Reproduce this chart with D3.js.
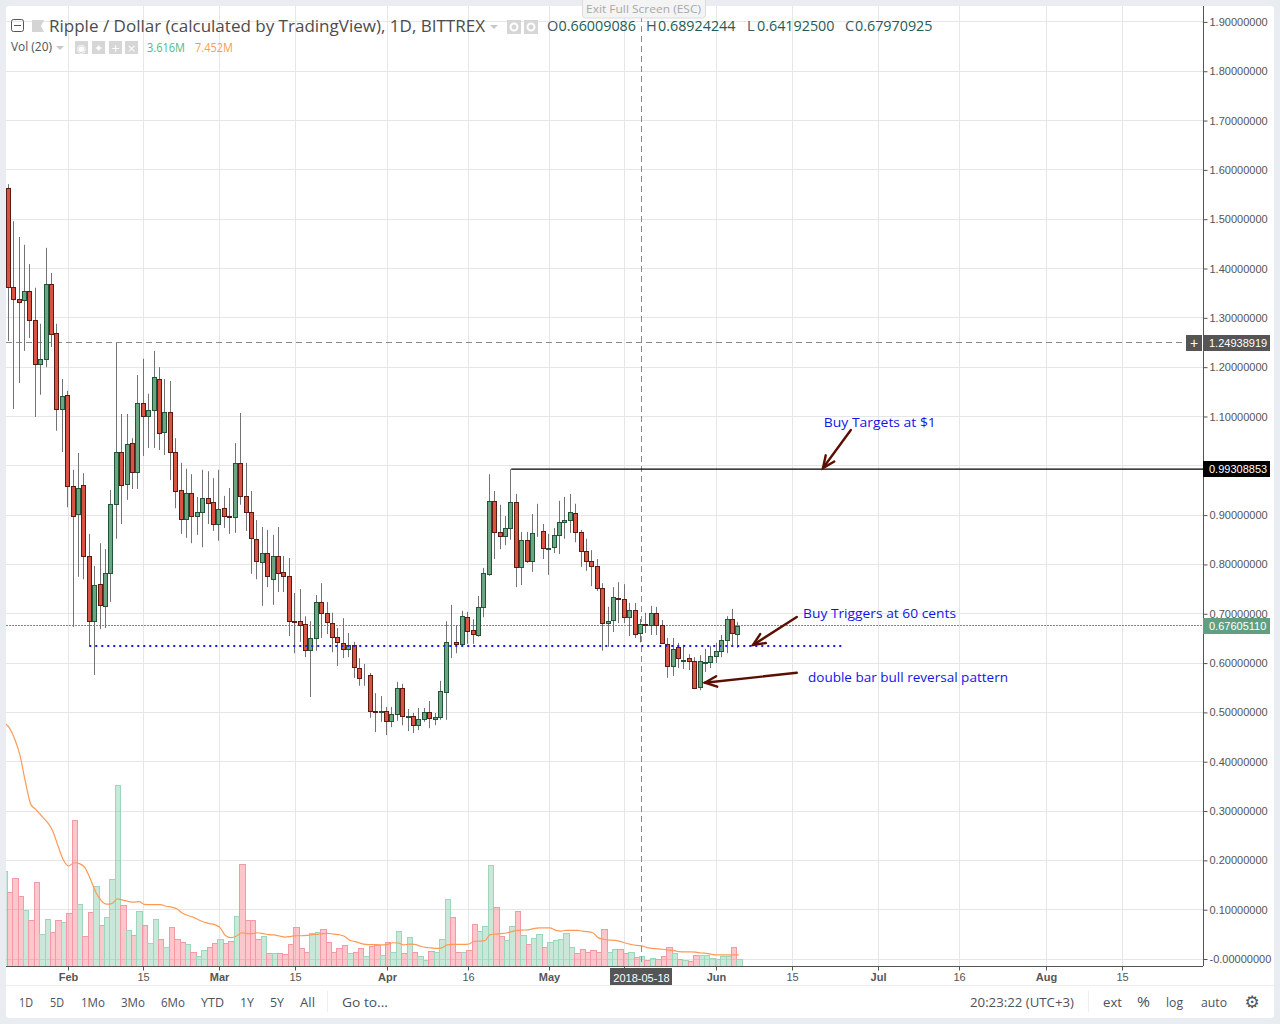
<!DOCTYPE html>
<html><head><meta charset="utf-8">
<script src="https://cdn.jsdelivr.net/npm/d3@7/dist/d3.min.js"></script>
<style>html,body{margin:0;padding:0;background:#e9edf1;overflow:hidden}svg{display:block}</style>
</head><body><svg id="c" width="1280" height="1024"></svg>
<script>
const firstCandle = "2018-01-21";
const opens = [1.563,1.363,1.338,1.336,1.354,1.296,1.206,1.217,1.369,1.269,
1.115,1.144,.959,.902,.961,.817,.685,.760,.716,.783,
.923,1.028,.963,1.046,.987,1.127,1.101,1.113,1.176,1.069,
1.109,1.028,.951,.892,.945,.898,.906,.935,.927,.882,
.914,.898,.896,1.006,.939,.906,.852,.805,.823,.770,
.817,.785,.777,.685,.685,.679,.627,.651,.724,.702,
.681,.653,.641,.629,.637,.590,.571,.576,.503,.501,
.503,.483,.497,.549,.491,.493,.474,.487,.501,.487,
.491,.541,.643,.643,.639,.693,.667,.657,.714,.781,
.929,.866,.858,.874,.927,.795,.850,.807,.865,.868,
.832,.835,.860,.886,.890,.904,.866,.827,.807,.797,
.752,.681,.687,.732,.730,.693,.708,.66009,.679,.677,
.702,.677,.639,.594,.633,.605,.610,.604,.551,.601,
.602,.614,.625,.647,.689,.659];
const closes = [1.363,1.338,1.332,1.354,1.296,1.206,1.217,1.369,1.267,1.115,
1.142,.959,.898,.955,.817,.685,.758,.718,.783,.923,
1.028,.961,1.044,.987,1.127,1.101,1.113,1.180,1.067,1.109,
1.028,.949,.892,.945,.898,.906,.935,.925,.882,.912,
.898,.896,1.006,.939,.906,.854,.807,.823,.777,.817,
.783,.777,.685,.683,.677,.627,.651,.724,.702,.683,
.653,.643,.629,.637,.592,.570,.572,.503,.501,.502,
.483,.497,.549,.493,.492,.474,.487,.501,.489,.491,
.543,.643,.642,.639,.695,.665,.659,.714,.783,.929,
.866,.858,.874,.927,.795,.850,.807,.864,.866,.833,
.833,.860,.886,.890,.906,.866,.827,.807,.797,.752,
.681,.685,.734,.730,.693,.708,.659,.67971,.678,.702,
.677,.641,.594,.629,.610,.606,.604,.549,.604,.602,
.614,.625,.647,.689,.661,.67605];
const highs = [1.571,1.496,1.464,1.448,1.409,1.361,1.288,1.442,1.391,1.288,
1.176,1.152,.992,1.026,.985,.862,.797,.843,.831,.951,
1.2494,1.105,1.105,1.056,1.184,1.217,1.146,1.233,1.200,1.176,
1.172,1.056,1.006,.994,.983,.937,.992,.989,.975,.992,
.939,.955,1.046,1.107,1.006,.949,.890,.876,.870,.860,
.876,.817,.813,.742,.750,.695,.685,.738,.762,.724,
.702,.671,.691,.661,.643,.610,.598,.580,.539,.533,
.511,.511,.562,.558,.507,.499,.509,.509,.523,.499,
.564,.685,.718,.677,.706,.704,.689,.736,.793,.983,
.949,.921,.898,.9931,.943,.866,.866,.902,.923,.882,
.862,.874,.929,.937,.943,.923,.870,.852,.829,.811,
.762,.714,.754,.764,.760,.722,.722,.68924,.702,.716,
.714,.687,.651,.651,.641,.637,.618,.612,.616,.629,
.635,.641,.657,.695,.710,.683];
const lows = [1.253,1.115,1.168,1.233,1.259,1.099,1.144,1.200,1.241,1.071,
1.028,.916,.673,.775,.770,.635,.576,.669,.671,.724,
.852,.882,.931,.953,.953,1.020,1.036,1.036,1.032,1.022,
.971,.914,.862,.854,.843,.860,.835,.882,.868,.848,
.874,.862,.864,.921,.868,.781,.770,.716,.754,.718,
.744,.744,.655,.620,.643,.612,.531,.625,.651,.659,
.622,.594,.610,.612,.570,.554,.554,.489,.460,.481,
.454,.470,.483,.474,.462,.458,.464,.481,.468,.474,
.485,.485,.610,.620,.633,.639,.639,.653,.693,.777,
.811,.831,.839,.850,.754,.758,.803,.785,.856,.811,
.779,.823,.821,.852,.864,.845,.795,.787,.756,.746,
.625,.633,.663,.681,.681,.655,.651,.64192,.661,.657,
.657,.641,.570,.574,.590,.588,.586,.547,.545,.582,
.590,.600,.612,.620,.633,.631];
// millions; the first entry is the day before the first visible candle
const volumes = [35.0,27.5,32.7,26.0,20.6,17.1,31.2,11.7,17.5,12.7,17.1,
16.4,19.7,53.9,23.1,11.2,20.1,29.7,15.3,18.2,32.3,
67.1,22.7,13.4,11.6,20.5,15.3,8.6,17.5,10.1,7.2,
14.5,10.1,9.0,8.3,5.3,3.8,6.0,7.2,8.6,10.1,
8.6,9.4,18.6,37.9,17.1,17.1,10.1,11.2,4.9,4.9,
4.9,4.6,8.3,14.5,6.8,5.3,12.3,12.7,13.8,9.0,
5.3,6.8,7.9,4.9,5.3,6.8,3.8,7.5,7.9,4.1,
8.9,5.2,12.9,4.8,10.7,5.2,3.7,2.2,5.5,5.2,
10.0,24.8,18.1,5.2,5.2,5.9,15.5,12.9,14.8,37.4,
21.8,11.1,9.6,14.8,20.3,11.5,8.1,10.4,11.8,7.0,
8.9,9.6,10.0,12.2,7.0,4.8,6.3,5.2,5.9,5.2,
13.7,5.2,6.3,6.3,4.8,5.2,3.3,3.616,2.2,3.0,
2.6,3.7,7.0,4.8,2.6,2.2,1.8,4.1,4.1,4.1,
3.0,2.6,3.7,3.7,7.0,2.6];
const volumeMA = [90.0,88.2,84.1,77.9,68.1,59.8,57.8,55.5,53.3,50.2,44.6,
39.3,37.0,38.2,37.9,36.4,32.3,27.4,24.3,22.9,23.1,
24.8,24.4,23.9,23.6,23.8,22.8,22.7,22.7,22.7,22.1,
21.8,21.2,19.6,18.7,18.1,17.1,16.3,15.7,15.3,14.2,
11.3,10.5,11.0,12.3,12.0,12.0,12.3,12.0,11.6,11.5,
11.1,10.7,10.9,11.2,11.2,11.3,11.6,11.7,12.0,12.1,
11.8,11.6,11.0,9.5,9.0,8.4,8.0,7.9,7.9,7.8,
8.0,8.6,8.5,7.8,8.1,8.0,7.4,6.9,6.7,6.5,
6.7,7.8,8.0,8.0,8.0,8.1,9.1,9.2,9.4,11.6,
11.8,12.0,12.2,12.7,13.2,13.3,13.4,13.8,14.1,14.1,
14.1,13.3,12.9,13.2,13.2,13.2,12.9,12.7,12.3,10.4,
9.9,9.6,9.5,9.1,8.5,8.0,7.6,7.452,6.8,6.5,
6.3,6.2,5.9,5.7,5.3,5.2,5.2,5.1,4.8,4.7,
4.3,4.1,4.1,4.1,4.1,4.1];
const priceTicks = [1.9,1.8,1.7,1.6,1.5,1.4,1.3,1.2,1.1,1.0,.9,.8,.7,.6,.5,.4,.3,.2,.1,0];
const timeTicks = [["2018-02-01","Feb",1],["2018-02-15","15",0],["2018-03-01","Mar",1],["2018-03-15","15",0],
["2018-04-01","Apr",1],["2018-04-16","16",0],["2018-05-01","May",1],["2018-05-15","",0],["2018-06-01","Jun",1],
["2018-06-15","15",0],["2018-07-01","Jul",1],["2018-07-16","16",0],["2018-08-01","Aug",1],["2018-08-15","15",0]];
const lastPrice = 0.67605110, resistance = 0.99308853, hoverPrice = 1.24938919, support = 0.6346;
const hoverDay = "2018-05-18";
const rangeButtons = [["1D",19,14],["5D",50,14],["1Mo",81,24],["3Mo",121,24],["6Mo",161,24],["YTD",201,23],["1Y",240,14],["5Y",270,14],["All",300,15]];
const arrows = [[155.9,1.0726,150.75,.9955],[145.9,.6934,137.8,.6367],[145.9,.5803,128.9,.5602]];
const notes = [["Buy Targets at $1",150.9,1.0787,112],["Buy Triggers at 60 cents",147.05,.6914,153],["double bar bull reversal pattern",147.97,.5616,200]];

const L=6,R=1203,T=6,B=966;
const MS=864e5, t0=Date.UTC(2018,0,21);
const dayAt=i=>new Date(t0+i*MS);
const x=d3.scaleUtc().domain([t0,Date.UTC(2018,7,15)]).range([8.2,8.2+5.405*206]);
const y=d3.scaleLinear().domain([0,1.9]).range([959,959-1.9*493.2]);
const yv=d3.scaleLinear().domain([0,100]).range([966,966-100/0.37]);
const snap=v=>Math.floor(v)+.5;
const gridX=d=>Math.round(x(d))+.5;

const svg=d3.select("#c");
const FONT="'Open Sans',sans-serif", AX="'Liberation Sans',Arial,sans-serif";
function txt(g,px,py,s,o={}){const t=g.append("text").attr("x",px).attr("y",py).text(s)
 .attr("font-family",o.f||FONT).attr("font-size",o.s||13).attr("fill",o.c||"#4c525e").attr("font-weight",o.w||400).attr("text-anchor",o.a||"start");
 if(o.l){t.attr("textLength",o.l).attr("lengthAdjust","spacingAndGlyphs");}return t;}

svg.append("rect").attr("x",L).attr("y",T).attr("width",1268).attr("height",1012).attr("rx",3).attr("fill","#fff");
const defs=svg.append("defs");
defs.append("clipPath").attr("id","plot").append("rect").attr("x",L).attr("y",T).attr("width",R-L).attr("height",B-T);

// grid
const grid=svg.append("g").attr("stroke","#e6e6e6").attr("stroke-width",1);
grid.selectAll("line.h").data(priceTicks).join("line").attr("class","h").attr("x1",L).attr("x2",R)
 .attr("y1",d=>snap(y(d))).attr("y2",d=>snap(y(d)));
grid.selectAll("line.v").data(timeTicks).join("line").attr("class","v").attr("y1",T).attr("y2",B)
 .attr("x1",d=>gridX(new Date(d[0]))).attr("x2",d=>gridX(new Date(d[0])));

const plot=svg.append("g").attr("clip-path","url(#plot)");
// volume
const vg=plot.append("g");
vg.selectAll("rect").data(volumes).join("rect")
 .attr("x",(d,i)=>Math.round(x(dayAt(i-1))-1.5)+.5)
 .attr("width",(d,i)=>Math.round(x(dayAt(i))-1.5)-Math.round(x(dayAt(i-1))-1.5))
 .attr("y",d=>Math.round(yv(d))+.5).attr("height",d=>B-Math.round(yv(d)))
 .attr("fill",(d,i)=>(i===0||closes[i-1]>=opens[i-1])?"rgba(75,178,128,.3)":"rgba(247,82,95,.32)")
 .attr("stroke",(d,i)=>(i===0||closes[i-1]>=opens[i-1])?"#9ed6bb":"#f39aa5").attr("stroke-width",1);
plot.append("path").datum(volumeMA)
 .attr("d",d3.line().x((d,i)=>x(dayAt(i-1))+1).y(d=>yv(d)).curve(d3.curveMonotoneX))
 .attr("fill","none").attr("stroke","#ff9a55").attr("stroke-width",1.2);

// level lines
plot.append("line").attr("x1",L).attr("x2",R).attr("y1",snap(y(lastPrice))).attr("y2",snap(y(lastPrice)))
 .attr("stroke","#5f9a80").attr("stroke-dasharray","2 1");
plot.append("line").attr("x1",L).attr("x2",R).attr("y1",snap(y(hoverPrice))).attr("y2",snap(y(hoverPrice)))
 .attr("stroke","#8a8a8a").attr("stroke-dasharray","6 4");
plot.append("line").attr("x1",gridX(new Date(hoverDay))).attr("x2",gridX(new Date(hoverDay))).attr("y1",T).attr("y2",B)
 .attr("stroke","#8a8a8a").attr("stroke-dasharray","6 4");

// candles
const cg=plot.append("g");
const cx=i=>snap(x(dayAt(i)));
cg.selectAll("line").data(opens).join("line")
 .attr("x1",(d,i)=>cx(i)).attr("x2",(d,i)=>cx(i))
 .attr("y1",(d,i)=>y(highs[i])).attr("y2",(d,i)=>y(lows[i]))
 .attr("stroke","#737375").attr("stroke-width",1);
cg.selectAll("rect").data(opens).join("rect")
 .attr("x",(d,i)=>cx(i)-2).attr("width",4)
 .attr("y",(d,i)=>Math.round(y(Math.max(d,closes[i])))+.5)
 .attr("height",(d,i)=>Math.max(0,Math.round(y(Math.min(d,closes[i])))-Math.round(y(Math.max(d,closes[i])))))
 .attr("fill",(d,i)=>closes[i]>=d?"#6ba583":"#d75442")
 .attr("stroke",(d,i)=>closes[i]>=d?"#225437":"#5b1a13").attr("stroke-width",1);

// drawings
plot.append("line").attr("x1",x(dayAt(93))+.3).attr("x2",R).attr("y1",y(resistance)).attr("y2",y(resistance))
 .attr("stroke","#000").attr("stroke-width",1.2);
plot.append("line").attr("x1",x(dayAt(15))).attr("x2",x(dayAt(154.3))).attr("y1",y(support)).attr("y2",y(support))
 .attr("stroke","#1616f0").attr("stroke-width",2).attr("stroke-dasharray","2 4");
const ag=plot.append("g").attr("stroke","#5b0f00").attr("stroke-width",2.4).attr("fill","none").attr("stroke-linecap","round");
arrows.forEach(a=>{
 const x1=x(dayAt(a[0])),y1=y(a[1]),x2=x(dayAt(a[2])),y2=y(a[3]);
 const ang=Math.atan2(y1-y2,x1-x2),h=13,sp=.42;
 ag.append("line").attr("x1",x1).attr("y1",y1).attr("x2",x2).attr("y2",y2);
 ag.append("path").attr("d",`M${x2+h*Math.cos(ang+sp)},${y2+h*Math.sin(ang+sp)}L${x2},${y2}L${x2+h*Math.cos(ang-sp)},${y2+h*Math.sin(ang-sp)}`);
});
notes.forEach(n=>txt(svg,x(dayAt(n[1])),y(n[2]),n[0],{s:13.5,c:"#1414e6",l:n[3]}));

// price axis (the 1.00 label is covered by the level label in the reference)
const pa=svg.append("g").attr("transform",`translate(${R+.5},0)`)
 .call(d3.axisRight(y).tickValues(priceTicks).tickSize(4).tickPadding(2)
   .tickFormat(d=>d===0?"-0.00000000":(d===1?"":d3.format(".8f")(d))));
pa.select(".domain").attr("d",`M0,${T}V${B}`).attr("stroke","#555");
pa.selectAll(".tick line").attr("stroke","#555");
pa.selectAll(".tick text").attr("font-family",AX).attr("font-size",11).attr("fill","#555").attr("x",6);
// time axis
const ta=svg.append("g").attr("transform",`translate(0,${B+.5})`)
 .call(d3.axisBottom(x).tickValues(timeTicks.map(d=>new Date(d[0]))).tickSize(4).tickPadding(3)
   .tickFormat((d,i)=>timeTicks[i][1]));
ta.select(".domain").attr("d",`M${L},0H${R}`).attr("stroke","#555");
ta.selectAll(".tick").attr("transform",d=>`translate(${gridX(d)},0)`);
ta.selectAll(".tick line").attr("stroke","#555");
ta.selectAll(".tick text").attr("font-family",AX).attr("font-size",11).attr("fill","#555")
 .attr("font-weight",(d,i)=>timeTicks[i][2]?700:400);

// price labels
function plabel(p,txtS,bg,fg){const py=Math.round(y(p));
 svg.append("rect").attr("x",R).attr("y",py-8).attr("width",67).attr("height",16).attr("fill",bg);
 txt(svg,R+6,py+4,txtS,{f:AX,s:11,c:fg});}
plabel(hoverPrice,d3.format(".8f")(hoverPrice),"#555","#fff");
plabel(resistance,d3.format(".8f")(resistance),"#000","#fff");
plabel(lastPrice,d3.format(".8f")(lastPrice),"#5f9f82","#fff");
const hy=Math.round(y(hoverPrice));
svg.append("rect").attr("x",1186).attr("y",hy-8).attr("width",16).attr("height",16).attr("fill","#555");
txt(svg,1194,hy+4.5,"+",{f:AX,s:14,c:"#fff",a:"middle"});
const hx=gridX(new Date(hoverDay));
svg.append("rect").attr("x",hx-31.5).attr("y",B+2).attr("width",62).attr("height",18).attr("fill","#555");
txt(svg,hx,B+15.5,hoverDay,{f:AX,s:11,c:"#fff",a:"middle"});

// header
svg.append("rect").attr("x",582.5).attr("y",-3).attr("width",123).attr("height",21).attr("rx",3).attr("fill","#f4f4f4").attr("stroke","#dcdcdc");
txt(svg,586,13,"Exit Full Screen (ESC)",{s:11,c:"#a9a9a9",l:115});
svg.append("rect").attr("x",11.5).attr("y",19.5).attr("width",12).attr("height",12).attr("rx",2).attr("fill","none").attr("stroke","#555");
svg.append("line").attr("x1",14).attr("x2",21).attr("y1",25.5).attr("y2",25.5).attr("stroke","#555");
svg.append("path").attr("d","M32,20H44L41,26L44,32H32Z").attr("fill","#d4d4d4");
txt(svg,49,32,"Ripple / Dollar (calculated by TradingView), 1D, BITTREX",{s:16,c:"#4c4c4c",l:436});
svg.append("path").attr("d","M490,25h8l-4,4z").attr("fill","#c8c8c8");
[507,524].forEach(px=>{svg.append("rect").attr("x",px).attr("y",20).attr("width",14).attr("height",14).attr("fill","#d6d6d6");
 svg.append("circle").attr("cx",px+7).attr("cy",27).attr("r",3.5).attr("fill","none").attr("stroke","#fff").attr("stroke-width",2);});
const ohlc=[["O","0.66009086",547,558.5],["H","0.68924244",646,658],["L","0.64192500",747,757],["C","0.67970925",845,855]];
ohlc.forEach(o=>{txt(svg,o[2],31,o[0],{s:14.5,c:"#44546a"});
 txt(svg,o[3],31,o[1],{s:14.5,c:"#1f5c55",l:77.5});});
txt(svg,11,51,"Vol (20)",{s:12,c:"#4c525e",l:41});
svg.append("path").attr("d","M56,46h8l-4,4z").attr("fill","#c8c8c8");
[75,92,109,125].forEach((px,i)=>{svg.append("rect").attr("x",px).attr("y",41).attr("width",13).attr("height",13).attr("fill","#d6d6d6");
 txt(svg,px+6.5,51.5,["◉","✦","+","×"][i],{f:"'DejaVu Sans'",s:11,c:"#fff",a:"middle"});});
txt(svg,147,52,"3.616M",{s:12,c:"#53b987",l:38});
txt(svg,195,52,"7.452M",{s:12,c:"#ff9a55",l:38});

// toolbar
svg.append("line").attr("x1",L).attr("x2",1274).attr("y1",985.5).attr("y2",985.5).attr("stroke","#eeeeee");
rangeButtons.forEach(b=>txt(svg,b[1],1007,b[0],{s:13,l:b[2]}));
svg.append("line").attr("x1",327.5).attr("x2",327.5).attr("y1",991).attr("y2",1012).attr("stroke","#eeeeee");
txt(svg,342,1007,"Go to...",{s:13,l:46});
txt(svg,970,1007,"20:23:22 (UTC+3)",{s:13,l:104});
svg.append("line").attr("x1",1088.5).attr("x2",1088.5).attr("y1",991).attr("y2",1012).attr("stroke","#eeeeee");
txt(svg,1103,1007,"ext",{s:13,l:19});
txt(svg,1137,1007,"%",{s:14,l:13});
txt(svg,1166,1007,"log",{s:13,l:17});
txt(svg,1201,1007,"auto",{s:13,l:26});
txt(svg,1252,1008,"\u2699",{f:"'DejaVu Sans'",s:17,c:"#4c525e",a:"middle"});
</script></body></html>
